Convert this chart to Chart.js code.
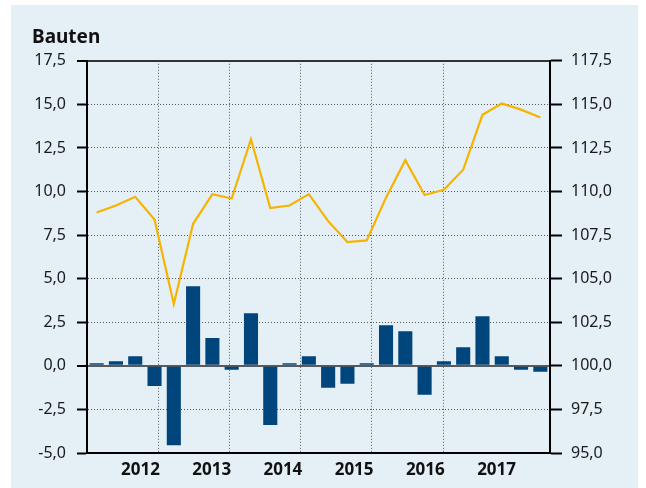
<!DOCTYPE html>
<html>
<head>
<meta charset="utf-8">
<script src="https://cdn.jsdelivr.net/npm/chart.js@4.4.0/dist/chart.umd.min.js"></script>
<style>
  html, body { margin: 0; padding: 0; background: #ffffff; }
  #panel { position: absolute; left: 11px; top: 5px; width: 627px; height: 483px; background: #e4eff6; }
  canvas { display: block; }
</style>
</head>
<body>
<div id="panel"><canvas id="bauten" width="627" height="483"></canvas></div>
<script>
const years = [2012, 2013, 2014, 2015, 2016, 2017];
const quarters = years.flatMap((y) => ["Q1 " + y, "Q2 " + y, "Q3 " + y, "Q4 " + y]);

// Veränderung gegenüber Vorquartal in % (Balken, linke Achse)
const changeValues = [
  0.15, 0.27, 0.55, -1.15,
  -4.55, 4.57, 1.6, -0.23,
  3.02, -3.4, 0.15, 0.55,
  -1.26, -1.03, 0.15, 2.33,
  1.99, -1.66, 0.27, 1.07,
  2.85, 0.55, -0.23, -0.34,
];

// Index (Linie, rechte Achse)
const indexValues = [
  108.8, 109.2, 109.7, 108.4,
  103.55, 108.15, 109.85, 109.6,
  113.0, 109.05, 109.2, 109.85,
  108.3, 107.1, 107.2, 109.65,
  111.8, 109.8, 110.1, 111.25,
  114.4, 115.05, 114.7, 114.25,
];

const leftTicks = { min: -5, max: 17.5, step: 2.5 };
const rightTicks = { min: 95, max: 117.5, step: 2.5 };

const fmt = (v) => v.toFixed(1).replace(".", ",");
const tickFont = { family: "'Noto Sans', sans-serif", size: 16 };

new Chart(document.getElementById("bauten"), {
  type: "bar",
  data: {
    labels: quarters,
    datasets: [
      {
        type: "line",
        data: indexValues,
        yAxisID: "y2",
        borderColor: "#f6b400",
        borderWidth: 2.2,
        pointRadius: 0,
        tension: 0,
        order: 0,
      },
      {
        type: "bar",
        data: changeValues,
        yAxisID: "y",
        backgroundColor: "#00457b",
        barPercentage: 0.73,
        categoryPercentage: 1,
        order: 1,
      },
    ],
  },
  options: {
    responsive: false,
    animation: false,
    layout: { padding: { left: 21, right: 0, top: 0, bottom: 0 } },
    plugins: {
      legend: { display: false },
      tooltip: { enabled: false },
      title: {
        display: true,
        text: "Bauten",
        align: "start",
        color: "#111111",
        font: { family: "'Noto Sans', sans-serif", size: 19, weight: "bold" },
        padding: { top: 21, bottom: 12 },
      },
    },
    scales: {
      x: {
        type: "category",
        display: false,
        offset: true,
      },
      xYear: {
        type: "linear",
        axis: "x",
        position: "bottom",
        min: 0,
        max: quarters.length,
        afterBuildTicks: (scale) => {
          const t = [];
          for (let v = 0; v <= quarters.length; v += 2) t.push({ value: v });
          scale.ticks = t;
        },
        afterFit: (scale) => { scale.height = 35; },
        ticks: {
          autoSkip: false,
          maxRotation: 0,
          padding: 7,
          color: "#111111",
          font: { family: "'Noto Sans', sans-serif", size: 17, weight: "bold" },
          callback: (v) => (v % 4 === 2 ? String(years[(v - 2) / 4]) : ""),
        },
        grid: {
          drawTicks: false,
          lineWidth: 1,
          color: (ctx) => {
            const v = ctx.tick ? ctx.tick.value : -1;
            return v % 4 === 0 && v > 0 && v < quarters.length ? "#555555" : "rgba(0,0,0,0)";
          },
        },
        border: { display: true, color: "#000000", width: 2, dash: [1, 2] },
      },
      y: {
        position: "left",
        min: leftTicks.min,
        max: leftTicks.max,
        afterFit: (scale) => { scale.width = 55; },
        ticks: {
          stepSize: leftTicks.step,
          padding: 11,
          color: "#1a1a1a",
          font: tickFont,
          callback: (v) => fmt(v),
        },
        grid: {
          tickLength: 10,
          tickColor: "#000000",
          tickWidth: 2,
          tickBorderDash: [],
          lineWidth: (ctx) => {
            const v = ctx.tick ? ctx.tick.value : null;
            return v === 0 || v === leftTicks.max ? 2 : 1;
          },
          color: (ctx) => {
            const v = ctx.tick ? ctx.tick.value : null;
            if (v === leftTicks.min) return "rgba(0,0,0,0)";
            if (v === leftTicks.max) return "#333333";
            if (v === 0) return "#5a5a5a";
            return "#555555";
          },
        },
        border: {
          display: true,
          color: "#000000",
          width: 2,
          dash: (ctx) => {
            const v = ctx.tick ? ctx.tick.value : null;
            return v === 0 || v === leftTicks.max ? [] : [1, 2];
          },
        },
      },
      y2: {
        position: "right",
        min: rightTicks.min,
        max: rightTicks.max,
        afterFit: (scale) => { scale.width = 88; },
        ticks: {
          stepSize: rightTicks.step,
          padding: 9,
          color: "#1a1a1a",
          font: tickFont,
          callback: (v) => fmt(v),
        },
        grid: {
          drawOnChartArea: false,
          tickLength: 12,
          tickColor: "#000000",
          tickWidth: 2,
          tickBorderDash: [],
        },
        border: { display: true, color: "#000000", width: 2 },
      },
    },
  },
});
</script>
</body>
</html>
